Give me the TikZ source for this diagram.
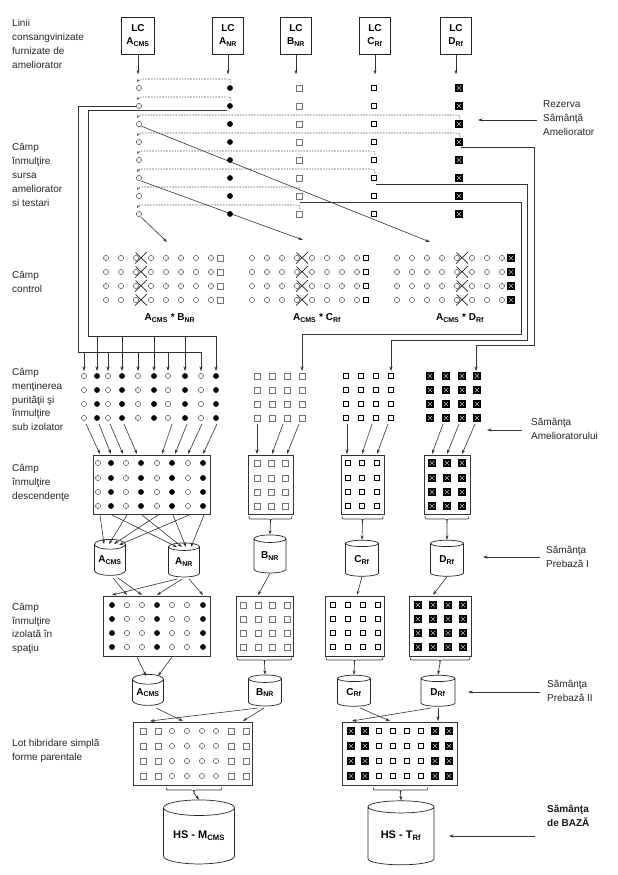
\documentclass[tikz,border=0pt]{standalone}
\usepackage{fontspec}
\setmainfont{Liberation Sans}
\usetikzlibrary{arrows.meta,shapes.geometric}
\newcommand{\sbs}[1]{\textsubscript{#1}}
\newcommand{\dshline}[2]{\draw[dsh] ({#1+1},{#2+4}) .. controls ({#1+1},{#2}) .. ({#1-7},{#2}) -- (145,{#2}) .. controls (139,{#2}) .. (137,{#2+3});}
\newcommand{\brc}[4]{\draw[ln] (#1,#3) .. controls (#1,{#3+3}) .. ({#1+4},{#3+3}) -- ({(#1+#2)/2-4},{#3+3}) .. controls ({(#1+#2)/2},{#3+3}) .. ({(#1+#2)/2},{#3+6}) .. controls ({(#1+#2)/2},{#3+3}) .. ({(#1+#2)/2+4},{#3+3}) -- ({#2-4},{#3+3}) .. controls (#2,{#3+3}) .. (#2,#3); \coordinate (#4) at ({(#1+#2)/2},{#3+6});}
\newcommand{\xmk}[2]{\draw[line width=0.7pt,black!85] ({#1-6},{#2+5.5}) -- ({#1+6},{#2-6}) ({#1-5.5},{#2-5.5}) -- ({#1+6},{#2+5.5});}
\tikzset{
 lbl/.style={font=\fontsize{10}{13.8}\selectfont, align=left, anchor=west, inner sep=0pt, text=black!85},
 blbl/.style={font=\bfseries\fontsize{10}{13.8}\selectfont, align=left, anchor=west, inner sep=0pt, text=black!90},
 ar/.style={-{Stealth[length=4.5pt,width=3pt]}, line width=0.6pt, draw=black!80},
 ln/.style={line width=0.6pt, draw=black!80},
 dsh/.style={dash pattern=on 1.6pt off 1.2pt, line width=0.55pt, draw=black!65, -{Stealth[length=3pt,width=2.5pt]}},
 fbox/.style={draw=black!80, line width=0.7pt, inner sep=0pt},
 lcbox/.style={draw=black!85, line width=0.8pt, align=center, font=\bfseries\fontsize{10}{13}\selectfont, minimum width=31pt, minimum height=37pt, inner sep=0pt},
 cyl/.style={cylinder, shape border rotate=90, draw=black!85, line width=0.7pt, aspect=0.42, inner sep=0pt, fill=white, font=\bfseries\fontsize{10}{12}\selectfont},
 clab/.style={font=\bfseries\fontsize{10}{12}\selectfont, inner sep=0pt},
 oc/.pic={\draw[line width=0.55pt, black!65, fill=white] (0,0) circle (2.6pt);},
 fc/.pic={\fill[black] (0,0) circle (2.9pt);},
 sb/.pic={\draw[line width=0.5pt, black!55, fill=white] (-2.9pt,-2.9pt) rectangle (2.9pt,2.9pt);},
 sc/.pic={\draw[line width=1.4pt, black, fill=white] (-2.5pt,-2.5pt) rectangle (2.5pt,2.5pt);},
 sd/.pic={\fill[black] (-3.6pt,-3.6pt) rectangle (3.6pt,3.6pt); \draw[gray!55, line width=0.5pt] (-2.3pt,-2.3pt) -- (2.3pt,2.3pt) (-2.3pt,2.3pt) -- (2.3pt,-2.3pt);},
}
\begin{document}
\begin{tikzpicture}[x=1pt,y=-1pt]
\useasboundingbox (0,0) rectangle (618,875);
\fill[white] (0,0) rectangle (618,875);

% ---------- left labels ----------
\node[lbl] (l1) at (12,44) {Linii\\consangvinizate\\furnizate de\\ameliorator};
\node[lbl] (l2) at (12,175) {Câmp\\înmulţire\\sursa\\ameliorator\\si testari};
\node[lbl] (l3) at (12,282) {Câmp\\control};
\node[lbl] (l4) at (12,399.5) {Câmp\\menţinerea\\purităţii şi\\înmulţire\\sub izolator};
\node[lbl] (l5) at (12,483) {Câmp\\înmulţire\\descendenţe};
\node[lbl] (l6) at (12,628.5) {Câmp\\înmulţire\\izolată în\\spaţiu};
\node[lbl] (l7) at (12,751) {Lot hibridare simplă\\forme parentale};

% ---------- right labels ----------
\node[lbl] (r1) at (543,118) {Rezerva\\Sâmânţă\\Ameliorator};
\draw[ar] (r1.west) ++(-6,2) -- (478,120);
\node[lbl] (r2) at (531,429) {Sămânţa\\Amelioratorului};
\draw[ar] (r2.west) ++(-9,1) -- (487,430);
\node[lbl] (r3) at (546,557) {Sămânţa\\Prebază I};
\draw[ar] (r3.west) ++(-6,0) -- (483,557);
\node[lbl] (r4) at (547,691) {Sămânţa\\Prebază II};
\draw[ar] (r4.west) ++(-7,1) -- (468,692);
\node[blbl] (r5) at (547,816) {Sămânţa\\de BAZĂ};
\coordinate (b5) at (535,836);
\draw[ar] (b5) -- (449,836);

% ---------- LC boxes ----------
\node[lcbox, minimum width=33pt] (lcA) at (138,35.5) {LC\\A\sbs{CMS}};
\node[lcbox] (lcAN) at (228,35.5) {LC\\A\sbs{NR}};
\node[lcbox] (lcB) at (296,35.5) {LC\\B\sbs{NR}};
\node[lcbox] (lcC) at (375,35.5) {LC\\C\sbs{Rf}};
\node[lcbox] (lcD) at (456,35.5) {LC\\D\sbs{Rf}};
\foreach \n in {lcA,lcAN,lcB,lcC,lcD} \draw[ar] (\n.south) -- ++(0,20);

% ---------- dashed return arrows ----------
\dshline{230}{79}
\dshline{230}{97}
\dshline{459}{115}
\dshline{459}{133}
\dshline{374}{151}
\dshline{374}{169}
\dshline{299}{187}
\dshline{299}{205}

% ---------- buses ----------
\draw[ln] (136,106.5) -- (78,106.5) -- (78,352) -- (201,352);
\foreach \x in {84,108,138,168,201} \draw[ar] (\x,352) -- (\x,371);
\draw[ln] (227,110) -- (88,110) -- (88,336) -- (216,336);
\foreach \x in {97,122,154,185,216} \draw[ar] (\x,336) -- (\x,371);
\draw[ar] (461,147) -- (534,147) -- (534,345) -- (476,345) -- (476,371);
\draw[ar] (376,184) -- (527,184) -- (527,340) -- (391,340) -- (391,371);
\draw[ar] (300,202) -- (521,202) -- (521,334) -- (302,334) -- (302,371);

% diagonals to control fields
\draw[ar] (141,126) -- (430,242);
\draw[ar] (141,181) -- (303,240);
\draw[ar] (141,217) -- (167,242);

% ---------- source field dots ----------
\foreach \y in {88,106,...,214} {
  \pic at (139,\y) {oc}; \pic at (230,\y) {fc}; \pic at (299,\y) {sb};
  \pic at (374,\y) {sc}; \pic at (459,\y) {sd};
}

% ---------- control fields ----------
\foreach \y in {258,272,286,300} {
  \foreach \x in {106,121,...,211} \pic at (\x,\y) {oc};
  \pic at (220,\y) {sb};
  \foreach \x in {252,267,...,357} \pic at (\x,\y) {oc};
  \pic at (366,\y) {sc};
  \foreach \x in {397,412,...,502} \pic at (\x,\y) {oc};
  \pic at (511,\y) {sd};
}
\foreach \y in {258,272,286,300} {\xmk{141}{\y}\xmk{302}{\y}\xmk{462}{\y}}
\node[clab] (cl1) at (170,318) {A\sbs{CMS} * B\sbs{NR}};
\node[clab] (cl2) at (317,318) {A\sbs{CMS} * C\sbs{Rf}};
\node[clab] (cl3) at (460,318) {A\sbs{CMS} * D\sbs{Rf}};

% ---------- maintenance field ----------
\foreach \y in {376,390,404,418} {
  \foreach \x in {84,108,138,168,201} \pic at (\x,\y) {oc};
  \foreach \x in {97,122,154,185,216} \pic at (\x,\y) {fc};
  \foreach \x in {257,272,287,302} \pic at (\x,\y) {sb};
  \foreach \x in {346,361,376,391} \pic at (\x,\y) {sc};
  \foreach \x in {430,446,462,477} \pic at (\x,\y) {sd};
}
% arrows to progeny boxes
\draw[ar] (86,424) -- (100,454);
\draw[ar] (99,424) -- (111,454);
\draw[ar] (110,424) -- (123,454);
\draw[ar] (124,424) -- (137,454);
\draw[ar] (172,424) -- (162,454);
\draw[ar] (187,424) -- (175,454);
\draw[ar] (202,424) -- (188,454);
\draw[ar] (217,424) -- (203,454);
\draw[ar] (257,424) -- (257,454);
\draw[ar] (283,424) -- (272,454);
\draw[ar] (299,424) -- (287,454);
\draw[ar] (347,424) -- (347,454);
\draw[ar] (372,424) -- (362,454);
\draw[ar] (388,424) -- (377,454);
\draw[ar] (443,424) -- (432,454);
\draw[ar] (459,424) -- (447,454);
\draw[ar] (475,424) -- (462,454);

% ---------- progeny boxes ----------
\node[fbox, minimum width=117pt, minimum height=59pt] (descA) at (151.5,484.5) {};
\node[fbox, minimum width=45pt, minimum height=59pt] (descB) at (270.5,484.5) {};
\node[fbox, minimum width=43pt, minimum height=59pt] (descC) at (362.5,484.5) {};
\node[fbox, minimum width=46pt, minimum height=59pt] (descD) at (447,484.5) {};
\foreach \y in {463,478,492,506} {
  \foreach \x in {98,126,157,188} \pic at (\x,\y) {oc};
  \foreach \x in {111,141,172,203} \pic at (\x,\y) {fc};
  \foreach \x in {257,271,285} \pic at (\x,\y) {sb};
  \foreach \x in {348,362,377} \pic at (\x,\y) {sc};
  \foreach \x in {432,447,462} \pic at (\x,\y) {sd};
}
\brc{249}{292}{516}{tB1}
\brc{342}{383}{516}{tC1}
\brc{425}{469}{516}{tD1}

% ---------- seed cylinders I ----------
\node[cyl, minimum width=31pt, minimum height=36pt] (cA1) at (110,560) {A\sbs{CMS}};
\node[cyl, minimum width=31pt, minimum height=34pt] (cN1) at (184,562) {A\sbs{NR}};
\node[cyl, minimum width=32pt, minimum height=38pt] (cB1) at (270,556) {B\sbs{NR}};
\node[cyl, minimum width=33pt, minimum height=36pt] (cC1) at (362,560) {C\sbs{Rf}};
\node[cyl, minimum width=33pt, minimum height=36pt] (cD1) at (447,560) {D\sbs{Rf}};
\draw[ar] (tB1) -- (cB1.north);
\draw[ar] (tC1) -- (cC1.north);
\draw[ar] (tD1) -- (cD1.north);
% crossing arrows from progeny A
\draw[ar] (100,515) -- (104,544);
\draw[ar] (127,515) -- (109,544);
\draw[ar] (158,515) -- (114,544);
\draw[ar] (189,515) -- (119,545);
\draw[ar] (112,515) -- (177,547);
\draw[ar] (142,515) -- (182,547);
\draw[ar] (173,515) -- (186,547);
\draw[ar] (204,515) -- (191,547);

% ---------- isolated field boxes ----------
\node[fbox, minimum width=107pt, minimum height=60pt] (isoA) at (156.5,626) {};
\node[fbox, minimum width=57pt, minimum height=60pt] (isoB) at (264.5,626) {};
\node[fbox, minimum width=59pt, minimum height=60pt] (isoC) at (354.5,626) {};
\node[fbox, minimum width=62pt, minimum height=60pt] (isoD) at (440,626) {};
\foreach \y in {605,619,633,647} {
  \foreach \x in {112,157,203} \pic at (\x,\y) {fc};
  \foreach \x in {127,142,172,187} \pic at (\x,\y) {oc};
  \foreach \x in {243,258,272,287} \pic at (\x,\y) {sb};
  \foreach \x in {333,348,363,378} \pic at (\x,\y) {sc};
  \foreach \x in {418,433,448,463} \pic at (\x,\y) {sd};
}
\draw[ar] (113,578) -- (127,595);
\draw[ar] (118,578) -- (142,595);
\draw[ar] (177,579) -- (112,595);
\draw[ar] (182,579) -- (157,595);
\draw[ar] (189,579) -- (203,595);
\draw[ar] (cB1.south) -- (258,595);
\draw[ar] (cC1.south) -- (357,595);
\draw[ar] (cD1.south) -- (433,595);
\brc{237}{292}{657}{tB2}
\brc{326}{383}{657}{tC2}
\brc{410}{470}{657}{tD2}

% ---------- seed cylinders II ----------
\node[cyl, minimum width=31pt, minimum height=31pt] (cA2) at (148,692.5) {A\sbs{CMS}};
\node[cyl, minimum width=33pt, minimum height=31pt] (cB2) at (265,692.5) {B\sbs{NR}};
\node[cyl, minimum width=33pt, minimum height=31pt] (cC2) at (354,692.5) {C\sbs{Rf}};
\node[cyl, minimum width=34pt, minimum height=31pt] (cD2) at (438,692.5) {D\sbs{Rf}};
\draw[ar] (137,657) -- (146,676);
\draw[ar] (172,657) -- (158,676);
\draw[ar] (tB2) -- (cB2.north);
\draw[ar] (tC2) -- (cC2.north);
\draw[ar] (tD2) -- (cD2.north);

% ---------- hybridisation boxes ----------
\node[fbox, minimum width=119pt, minimum height=63pt] (hibL) at (192.5,753.5) {};
\node[fbox, minimum width=115pt, minimum height=63pt] (hibR) at (399.5,753.5) {};
\foreach \y in {731,746,761,776} {
  \foreach \x in {143,158,231,246} \pic at (\x,\y) {sb};
  \foreach \x in {172,187,202,216} \pic at (\x,\y) {oc};
  \foreach \x in {351,365,435,449} \pic at (\x,\y) {sd};
  \foreach \x in {379,393,407,421} \pic at (\x,\y) {sc};
}
\draw[ar] (156,708) -- (183,721);
\draw[ar] (258,708) -- (150,721);
\draw[ar] (264,708) -- (243,721);
\draw[ar] (360,708) -- (390,721);
\draw[ar] (431,708) -- (352,721);
\draw[ar] (438,708) -- (438,721);
\brc{166}{222}{787}{tHL}
\brc{373}{428}{787}{tHR}

% ---------- basic seed cylinders ----------
\node[cyl, aspect=0.3, minimum width=71pt, minimum height=64pt, font=\bfseries\fontsize{11}{13}\selectfont] (cHM) at (199,836) {HS - M\sbs{CMS}};
\node[cyl, aspect=0.3, minimum width=66pt, minimum height=64pt, font=\bfseries\fontsize{11}{13}\selectfont] (cHT) at (401,836) {HS - T\sbs{Rf}};
\draw[ar] (tHL) -- (cHM.north);
\draw[ar] (tHR) -- (cHT.north);
\end{tikzpicture}
\end{document}
